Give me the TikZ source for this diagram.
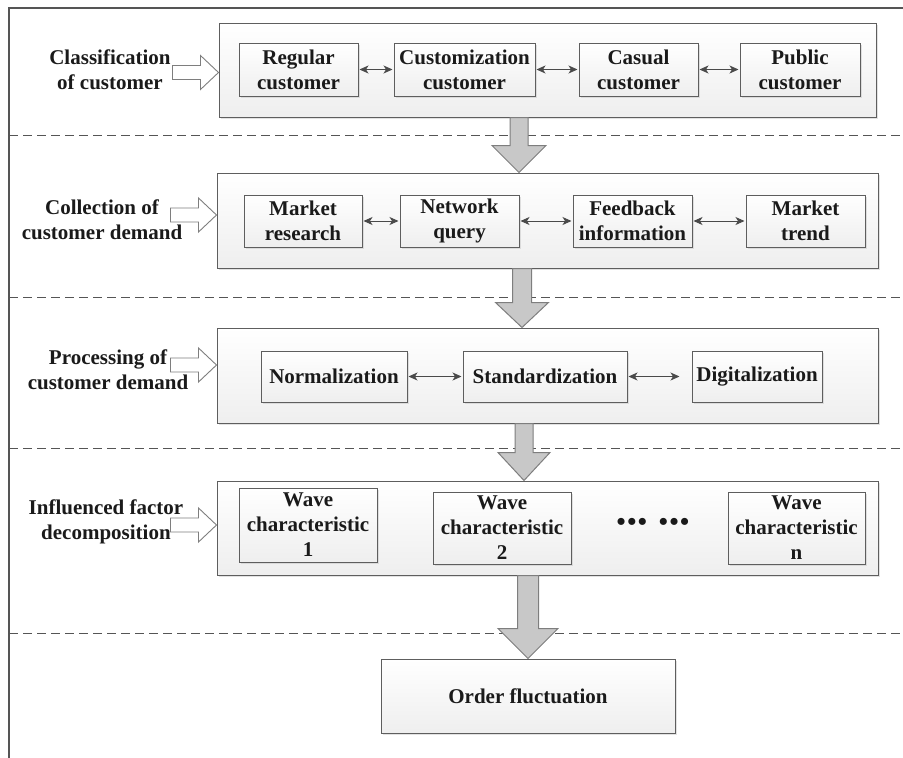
\documentclass[tikz,border=0pt]{standalone}
\usepackage{fontspec}
\setmainfont{Liberation Serif}
\usetikzlibrary{calc,shadows,arrows.meta}
\definecolor{edgegray}{HTML}{5E5E5E}
\definecolor{arrowfill}{HTML}{C8C8C8}
\definecolor{arrowedge}{HTML}{7E7E7E}
\definecolor{dblgray}{HTML}{4A4A4A}
\definecolor{framegray}{HTML}{555555}
\definecolor{txt}{HTML}{1A1A1A}
\tikzset{
  boxbase/.style={draw=edgegray, line width=1pt, top color=white, bottom color=gray!13,
    drop shadow={shadow xshift=1.5pt, shadow yshift=-1.5pt, fill=gray!50, opacity=0.45}},
  bigbox/.style={boxbase, inner sep=0pt},
  inbox/.style={boxbase, align=center, inner sep=0pt, text=txt},
  lab/.style={align=center, inner sep=0pt, text=txt},
  dbl/.style={{Stealth[length=9pt,width=8pt,inset=2.5pt]}-{Stealth[length=9pt,width=8pt,inset=2.5pt]}, draw=dblgray, line width=1pt, shorten <=1pt, shorten >=1pt},
  hollow/.style={draw=arrowedge, line width=0.9pt, fill=white},
  bigarrow/.style={draw=arrowedge, fill=arrowfill, line width=1pt},
  sepline/.style={draw=framegray, line width=0.9pt, dash pattern=on 9pt off 5pt},
  framel/.style={draw=framegray, line width=1.1pt}
}
\newcommand\hollowarrow[1]{%
  \draw[hollow] #1 -- ++(-18,-17) -- ++(0,10) -- ++(-28,0) -- ++(0,14) -- ++(28,0) -- ++(0,10) -- cycle;}
% #1 x coordinate, #2 from node, #3 to node, #4 head length, #5 shaft half width, #6 head half width
\newcommand\bigdown[6]{%
  \filldraw[bigarrow] let \p1=(#2.south -| #1), \p2=(#3.north -| #1) in
    (\x1-#5pt,\y1) -- (\x1+#5pt,\y1) -- (\x1+#5pt,\y2+#4pt) -- (\x1+#6pt,\y2+#4pt) -- (\x1,\y2)
    -- (\x1-#6pt,\y2+#4pt) -- (\x1-#5pt,\y2+#4pt) -- cycle;}
\begin{document}
\begin{tikzpicture}[x=1pt,y=-1pt,font=\fontsize{21}{25}\selectfont\bfseries]
\useasboundingbox (0,0) rectangle (903,758);
% frame and separators
\draw[framel] (9,758) -- (9,8) -- (903,8);
\draw[sepline] (9,135) -- (903,135);
\draw[sepline] (9,297) -- (903,297);
\draw[sepline] (9,448) -- (903,448);
\draw[sepline] (9,633) -- (903,633);

% big boxes
\node[bigbox, minimum width=657, minimum height=94] (b1) at (547.5,70) {};
\node[bigbox, minimum width=661, minimum height=95] (b2) at (547.5,220.5) {};
\node[bigbox, minimum width=661, minimum height=95] (b3) at (547.5,375.5) {};
\node[bigbox, minimum width=661, minimum height=94] (b4) at (547.5,528) {};
\node[inbox, minimum width=294, minimum height=74] (ord) at (528,696) {Order fluctuation};

% row 1
\node[inbox, minimum width=119, minimum height=53] (reg) at (298.5,69.5) {Regular\\customer};
\node[inbox, minimum width=141, minimum height=53] (cus) at (464.5,69.5) {Customization\\customer};
\node[inbox, minimum width=119, minimum height=53] (cas) at (638.5,69.5) {Casual\\customer};
\node[inbox, minimum width=120, minimum height=53] (pub) at (800,69.5) {Public\\customer};
\draw[dbl] (reg) -- (cus);
\draw[dbl] (cus) -- (cas);
\draw[dbl] (cas) -- (pub);

% row 2
\node[inbox, minimum width=118, minimum height=52] (mr) at (303,221) {Market\\research};
\node[inbox, minimum width=119, minimum height=52] (nq) at (459.5,221) {Network\\query};
\node[inbox, minimum width=119, minimum height=52] (fb) at (632.5,221) {Feedback\\information};
\node[inbox, minimum width=119, minimum height=52] (mt) at (805.5,221) {Market\\trend};
\draw[dbl] (mr) -- (nq);
\draw[dbl] (nq) -- (fb);
\draw[dbl] (fb) -- (mt);

% row 3
\node[inbox, minimum width=146, minimum height=51] (nor) at (334,376.5) {Normalization};
\node[inbox, minimum width=164, minimum height=51] (std) at (545,376.5) {Standardization};
\node[inbox, minimum width=130, minimum height=51] (dig) at (757,376.5) {Digitalization};
\draw[dbl] (nor) -- (std);
\draw[dbl, shorten >=12pt] (std) -- (dig);

% row 4
\node[inbox, minimum width=138, minimum height=74] (w1) at (308,525) {Wave\\characteristic\\1};
\node[inbox, minimum width=138, minimum height=72] (w2) at (502,528) {Wave\\characteristic\\2};
\node[inbox, minimum width=137, minimum height=72] (wn) at (796.5,528) {Wave\\characteristic\\n};
\node[lab, font=\fontsize{26}{28}\selectfont\bfseries] (dots) at (653,524) {•\kern1.5pt•\kern1.5pt•\kern12pt•\kern1.5pt•\kern1.5pt•};

% left labels
\node[lab] (l1) at (110,69.5) {Classification\\of customer};
\node[lab] (l2) at (102,220) {Collection of\\customer demand};
\node[lab] (l3) at (108,370) {Processing of\\customer demand};
\node[lab] (l4) at (106,522) {Influenced factor\\decomposition};

% hollow arrows
\hollowarrow{($(b1.west)+(0,2.5)$)}
\hollowarrow{($(b2.west)+(0,-5.5)$)}
\hollowarrow{($(b3.west)+(0,-10.5)$)}
\hollowarrow{($(b4.west)+(0,-3)$)}

% big down arrows
\coordinate (x1) at (519,0);
\coordinate (x2) at (522,0);
\coordinate (x3) at (524,0);
\coordinate (x4) at (528,0);
\bigdown{x1}{b1}{b2}{27}{9}{27}
\bigdown{x2}{b2}{b3}{25}{9.5}{26.5}
\bigdown{x3}{b3}{b4}{28}{9}{26}
\bigdown{x4}{b4}{ord}{30}{10.5}{30}
\end{tikzpicture}
\end{document}
